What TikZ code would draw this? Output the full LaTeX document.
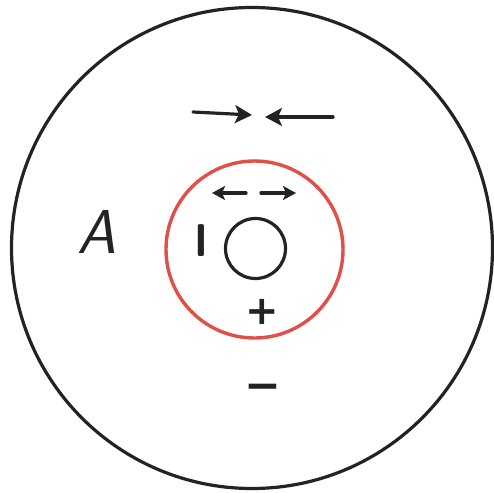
\documentclass[tikz,border=0pt]{standalone}
\usepackage{fontspec}
\newfontfamily\hand{DejaVu Sans}
\usetikzlibrary{arrows.meta}
\definecolor{ringred}{RGB}{226,78,72}
\definecolor{ink}{RGB}{35,35,35}
\tikzset{
  ring/.style={circle, draw=ink, line width=3.2pt, inner sep=0pt, outer sep=0pt},
  bigarrow/.style={draw=ink, line width=3.2pt, line cap=round, -{Stealth[length=17pt,width=18pt,inset=4pt]}},
  smallarrow/.style={draw=ink, line width=3.2pt, line cap=round, -{Stealth[length=13pt,width=14pt,inset=3pt]}},
  label/.style={text=ink, inner sep=0pt}
}
\begin{document}
\begin{tikzpicture}[x=1pt,y=-1pt]
\useasboundingbox (0,0) rectangle (494,492);
\fill[white] (0,0) rectangle (494,492);
\node[ring, minimum size=481pt] (outer) at (252,248) {};
\node[ring, draw=ringred, line width=3.4pt, minimum size=177pt] (field) at (254.5,249.5) {};
\node[ring, minimum size=60pt] (core) at (255.5,248.5) {};
% top arrows (pointing towards each other)
\coordinate (t1) at (193,112);
\coordinate (h1) at (252,115);
\coordinate (t2) at (333,117);
\coordinate (h2) at (265,117);
\draw[bigarrow] (t1) -- (h1);
\draw[bigarrow] (t2) -- (h2);
% small arrows (pointing away from each other)
\coordinate (s1) at (246,193);
\coordinate (e1) at (212,193);
\coordinate (s2) at (261,193);
\coordinate (e2) at (296,193);
\draw[smallarrow] (s1) -- (e1);
\draw[smallarrow] (s2) -- (e2);
% labels
\node[label, font=\fontsize{62}{62}\selectfont\sffamily\itshape] (A) at (97,232) {A};
\node[label, font=\fontsize{46}{46}\selectfont\sffamily\bfseries] (I) at (201,241) {l};
\node[label, font=\fontsize{40}{40}\selectfont\hand\bfseries] (plus) at (262,312) {+};
\node[label, font=\fontsize{44}{44}\selectfont\hand\bfseries] (minus) at (263,392) {−};
\end{tikzpicture}
\end{document}
